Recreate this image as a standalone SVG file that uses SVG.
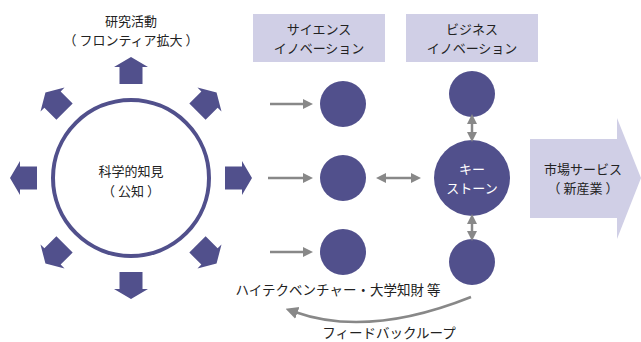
<svg xmlns="http://www.w3.org/2000/svg" width="641" height="342" viewBox="0 0 641 342">
<defs>
<style>
text{font-family:"Noto Sans CJK JP","Noto Sans",sans-serif;font-size:13px;fill:#222;text-anchor:middle}
.w{fill:#fff}
.dark{fill:#51508c}
.light{fill:#d0cfe6}
.g{stroke:#888;stroke-width:2.5;fill:none}
</style>
<polygon id="ba" points="-11.5,-94 11.5,-94 11.5,-111 17,-111 0,-121 -17,-111 -11.5,-111"/>
<marker id="ah" viewBox="0 0 10 10" refX="2" refY="5" markerWidth="4" markerHeight="4.4" orient="auto-start-reverse" markerUnits="strokeWidth">
<path d="M0,0 L10,5 L0,10 z" fill="#888"/>
</marker>
<marker id="fh" viewBox="0 0 10 10" refX="2" refY="5" markerWidth="5" markerHeight="7" orient="auto" markerUnits="strokeWidth">
<path d="M0,0 L10,5 L0,10 z" fill="#888"/>
</marker>
</defs>
<g id="knowledge">
<circle cx="131" cy="178" r="78" fill="#fff" stroke="#51508c" stroke-width="4"/>
<text x="131" y="176">科学的知見</text>
<text x="131" y="196">（ 公知 ）</text>
</g>
<g id="radial-arrows" class="dark" transform="translate(131,178)">
<use href="#ba"/>
<use href="#ba" transform="rotate(45)"/>
<use href="#ba" transform="rotate(90)"/>
<use href="#ba" transform="rotate(135)"/>
<use href="#ba" transform="rotate(180)"/>
<use href="#ba" transform="rotate(225)"/>
<use href="#ba" transform="rotate(270)"/>
<use href="#ba" transform="rotate(315)"/>
</g>
<g id="research-label">
<text x="131" y="26">研究活動</text>
<text x="131" y="45">（ フロンティア拡大 ）</text>
</g>
<g id="science-header">
<rect x="253" y="14" width="132" height="48" class="light"/>
<text x="319" y="34">サイエンス</text>
<text x="319" y="53">イノベーション</text>
</g>
<g id="business-header">
<rect x="406" y="14" width="132" height="48" class="light"/>
<text x="472" y="34">ビジネス</text>
<text x="472" y="53">イノベーション</text>
</g>
<g id="s1"><circle cx="343" cy="104" r="23" class="dark"/></g>
<g id="s2"><circle cx="343" cy="178" r="23" class="dark"/></g>
<g id="s3"><circle cx="343" cy="252" r="23" class="dark"/></g>
<g id="b1"><circle cx="472" cy="94" r="23" class="dark"/></g>
<g id="keystone">
<circle cx="472" cy="178" r="38" class="dark"/>
<text x="472" y="174" class="w">キー</text>
<text x="472" y="193" class="w">ストーン</text>
</g>
<g id="b2"><circle cx="472" cy="262" r="23" class="dark"/></g>
<g id="market">
<polygon points="530,139 617,139 617,118 641,178 617,239 617,218 530,218" class="light"/>
<text x="583" y="174">市場サービス</text>
<text x="583" y="193">（ 新産業 ）</text>
</g>
<g id="connectors">
<line x1="270" y1="104" x2="305" y2="104" class="g" marker-end="url(#ah)"/>
<line x1="268" y1="178" x2="305" y2="178" class="g" marker-end="url(#ah)"/>
<line x1="270" y1="252" x2="305" y2="252" class="g" marker-end="url(#ah)"/>
<line x1="384" y1="178" x2="413" y2="178" class="g" marker-start="url(#ah)" marker-end="url(#ah)"/>
<line x1="472" y1="122" x2="472" y2="134" class="g" stroke-width="2" marker-start="url(#ah)" marker-end="url(#ah)"/>
<line x1="472" y1="222" x2="472" y2="233" class="g" stroke-width="2" marker-start="url(#ah)" marker-end="url(#ah)"/>
<path d="M471,297 Q368,338 295,312" class="g" stroke-width="3" marker-end="url(#fh)"/>
</g>
<g id="labels">
<text x="338" y="295" style="font-size:13.5px">ハイテクベンチャー・大学知財 等</text>
<text x="389" y="338" style="font-size:13.5px">フィードバックループ</text>
</g>
</svg>
